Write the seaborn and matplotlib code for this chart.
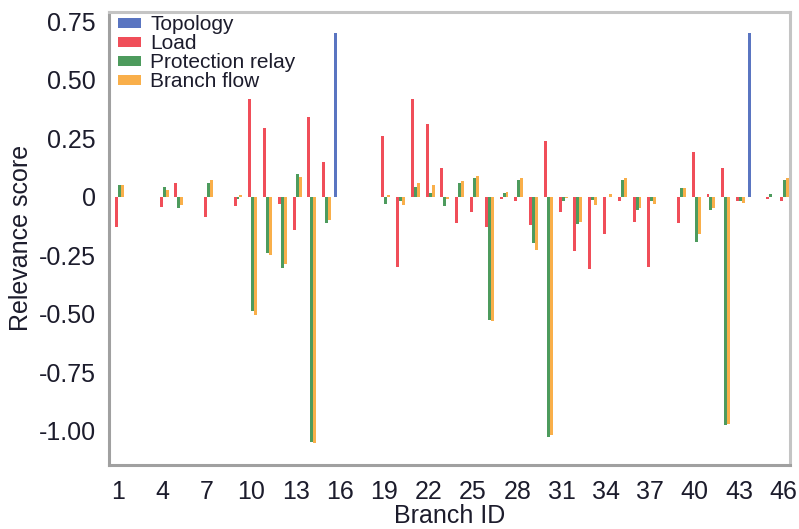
"""
Relevance score per branch for the four input feature groups.
Grouped bar chart redrawn with seaborn.
"""
import matplotlib
matplotlib.use("Agg")
import matplotlib.pyplot as plt
from matplotlib import font_manager
import pandas as pd
import seaborn as sns

# --- Data ---
branches = list(range(1, 47))
features = ["Topology", "Load", "Protection relay", "Branch flow"]

topology = [0, 0, 0, 0, 0, 0, 0, 0, 0, 0,
            0, 0, 0, 0, 0, 0.70, 0, 0, 0, 0,
            0, 0, 0, 0, 0, 0, 0, 0, 0, 0,
            0, 0, 0, 0, 0, 0, 0, 0, 0, 0,
            0, 0, 0, 0.70, 0, 0]
load = [-0.128, 0, 0, -0.043, 0.057, 0, -0.088, 0, -0.04, 0.417,
        0.295, -0.03, -0.142, 0.338, 0.148, 0, 0, 0, 0.259, -0.302,
        0.417, 0.309, 0.12, -0.111, -0.068, -0.128, -0.01, -0.021, -0.121, 0.238,
        -0.068, -0.231, -0.309, -0.161, -0.021, -0.11, -0.299, 0, -0.111, 0.19,
        0.01, 0.121, -0.017, 0, -0.01, -0.021]
relay = [0.05, 0, 0, 0.04, -0.05, 0, 0.06, 0, -0.01, -0.49,
         -0.24, -0.306, 0.097, -1.047, -0.111, 0, 0, 0, -0.031, -0.02,
         0.043, 0.015, -0.04, 0.057, 0.078, -0.527, 0.014, 0.071, -0.20, -1.026,
         -0.017, -0.118, -0.014, 0, 0.071, -0.057, -0.02, 0, 0.038, -0.192,
         -0.057, -0.976, -0.017, 0, 0.01, 0.071]
flow = [0.05, 0, 0, 0.03, -0.035, 0, 0.07, 0, 0.005, -0.505,
        -0.25, -0.29, 0.085, -1.053, -0.10, 0, 0, 0, 0.007, -0.036,
        0.057, 0.048, -0.01, 0.068, 0.088, -0.53, 0.02, 0.078, -0.23, -1.02,
        -0.005, -0.107, -0.038, 0.01, 0.078, -0.05, -0.03, 0, 0.036, -0.161,
        -0.05, -0.97, -0.028, 0, 0, 0.078]

colors = {"Topology": "#3d5db6", "Load": "#ee2f3c",
          "Protection relay": "#2e8a40", "Branch flow": "#f8a12a"}

ytick_vals = [0.75, 0.5, 0.25, 0, -0.25, -0.5, -0.75, -1.0]
ytick_labels = ["0.75", "0.50", "0.25", "0", "-0.25", "-0.50", "-0.75", "-1.00"]

# --- Long table for seaborn ---
rows = []
for name, vals in zip(features, [topology, load, relay, flow]):
    for b, v in zip(branches, vals):
        rows.append({"branch": str(b), "feature": name, "value": v})
df = pd.DataFrame(rows)

sns.set_style("white")
names = {f.name for f in font_manager.fontManager.ttflist}
if "Liberation Sans Narrow" in names:
    narrow, tick_fs = "Liberation Sans Narrow", 22
else:
    narrow, tick_fs = "Liberation Sans", 18
plt.rcParams["font.family"] = ["Liberation Sans", "DejaVu Sans"]
txt_color = "#1c1c2c"

fig = plt.figure(figsize=(7.99, 5.29), dpi=100)
ax = fig.add_axes([109 / 799, 1 - 465 / 529, 681 / 799, 453.3 / 529])

sns.barplot(data=df, x="branch", y="value", hue="feature",
            order=[str(b) for b in branches], hue_order=features,
            palette=colors, width=0.8, saturation=1, errorbar=None,
            alpha=0.85, linewidth=0, ax=ax)

ax.set_xlim(-0.63, 45.45)
ax.set_ylim(-1.147, 0.79)

ax.set_xticks(range(len(branches)))
ax.set_xticklabels([str(b) if (b - 1) % 3 == 0 else "" for b in branches],
                   fontsize=tick_fs, family=narrow, color=txt_color)
ax.set_yticks(ytick_vals)
ax.set_yticklabels(ytick_labels, fontsize=tick_fs, family=narrow, color=txt_color)
ax.tick_params(axis="both", direction="out", length=3.5, width=1, color="#999999")
ax.tick_params(axis="y", pad=6)
ax.tick_params(axis="x", pad=7)

ax.set_xlabel("Branch ID", fontsize=tick_fs, family=narrow, color=txt_color, labelpad=0)
ax.set_ylabel("Relevance score", fontsize=18, color=txt_color, labelpad=4)

for side in ["left", "bottom"]:
    ax.spines[side].set_color("#a0a0a0")
    ax.spines[side].set_linewidth(2.2)
for side in ["top", "right"]:
    ax.spines[side].set_color("#c4c4c4")
    ax.spines[side].set_linewidth(2.2)

handles, labels = ax.get_legend_handles_labels()
leg = ax.legend(handles, labels, loc="upper left", bbox_to_anchor=(0.013, 0.992),
                frameon=False, fontsize=15, borderpad=0, borderaxespad=0,
                labelspacing=0, handlelength=1.1, handleheight=0.4,
                handletextpad=0.45)
for t in leg.get_texts():
    t.set_color(txt_color)

fig.savefig("out.png", dpi=100)
